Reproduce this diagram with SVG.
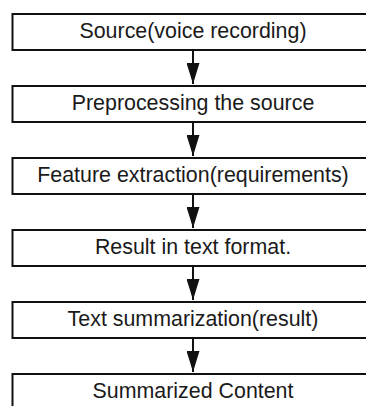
<svg xmlns="http://www.w3.org/2000/svg" width="366" height="406" viewBox="0 0 366 406">
<defs>
<style>
.box{fill:#fff;stroke:#111;stroke-width:2}
.lbl{font-family:"Liberation Sans",Arial,sans-serif;font-size:21.4px;fill:#1a1a1a;text-anchor:middle}
.con{stroke:#111;stroke-width:2;fill:none}
</style>
<marker id="ah" viewBox="0 0 21 13" refX="21" refY="6.5" markerWidth="21" markerHeight="13" markerUnits="userSpaceOnUse" orient="auto">
<path d="M0,0 L21,6.5 L0,13 Z" fill="#111"/>
</marker>
</defs>
<rect width="366" height="406" fill="#fff"/>
<g id="connectors">
<path class="con" d="M193,50 V84" marker-end="url(#ah)"/>
<path class="con" d="M193,122 V156" marker-end="url(#ah)"/>
<path class="con" d="M193,194 V228" marker-end="url(#ah)"/>
<path class="con" d="M193,266 V300" marker-end="url(#ah)"/>
<path class="con" d="M193,338 V372" marker-end="url(#ah)"/>
</g>
<g id="n1"><rect class="box" x="12.5" y="14" width="362" height="36"/><text class="lbl" x="193" y="38">Source(voice recording)</text></g>
<g id="n2"><rect class="box" x="12.5" y="86" width="362" height="36"/><text class="lbl" x="193" y="110">Preprocessing the source</text></g>
<g id="n3"><rect class="box" x="12.5" y="158" width="362" height="36"/><text class="lbl" x="193" y="182">Feature extraction(requirements)</text></g>
<g id="n4"><rect class="box" x="12.5" y="230" width="362" height="36"/><text class="lbl" x="193" y="254">Result in text format.</text></g>
<g id="n5"><rect class="box" x="12.5" y="302" width="362" height="36"/><text class="lbl" x="193" y="326">Text summarization(result)</text></g>
<g id="n6"><rect class="box" x="12.5" y="374" width="362" height="40"/><text class="lbl" x="193" y="398">Summarized Content</text></g>
</svg>
